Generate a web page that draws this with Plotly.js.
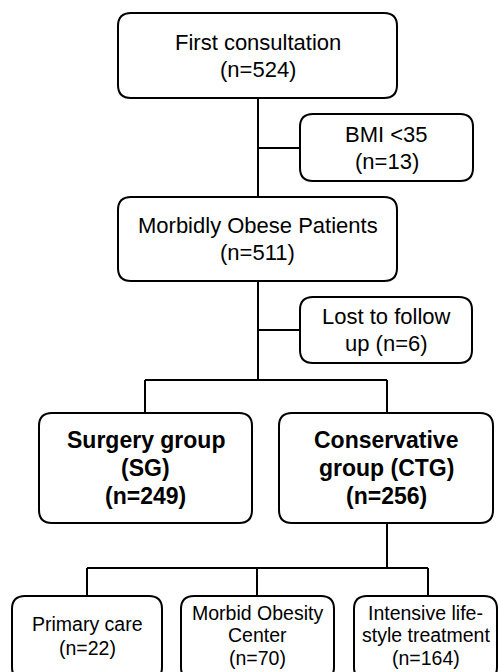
<!DOCTYPE html>
<html>
<head>
<meta charset="utf-8">
<script src="https://cdn.plot.ly/plotly-3.0.1.min.js"></script>
<style>html,body{margin:0;padding:0;background:#fff;}#chart{width:500px;height:672px;}</style>
</head>
<body>
<div id="chart"></div>
<script>
// ---- data ----
var nodeIds = ["first", "bmi", "obese", "lost", "sg", "ctg", "primary", "moc", "intensive"];
var nodeLabels = [
  ["First consultation"],
  ["BMI &lt;35"],
  ["Morbidly Obese Patients"],
  ["Lost to follow", "up "],
  ["Surgery group", "(SG)"],
  ["Conservative", "group (CTG)"],
  ["Primary care"],
  ["Morbid Obesity", "Center"],
  ["Intensive life-", "style treatment"]
];
var nodeCounts = [524, 13, 511, 6, 249, 256, 22, 70, 164];
var nodeBold = [false, false, false, false, true, true, false, false, false];

// ---- layout (pixel geometry) ----
var boxes = [
  [118, 397, 13, 98],
  [300, 473, 114, 181],
  [118, 397, 197, 281],
  [300, 472, 297, 363],
  [39, 252, 413, 523],
  [279, 493, 413, 523],
  [12, 162, 596, 680],
  [181, 334, 596, 680],
  [354, 497, 596, 680]
];
var textCenters = [55.5, 147.5, 239, 330, 468, 468, 636, 635, 635];
var fontSizes = [22, 22, 22, 22, 23, 23, 19.5, 19.5, 19.5];
var lineSteps = [27, 27, 27, 27, 28, 28, 24, 22.5, 22.5];
var connectors = [
  [[258, 98], [258, 197]],
  [[258, 281], [258, 380]],
  [[258, 148], [300, 148]],
  [[258, 330], [300, 330]],
  [[145, 380], [387, 380]],
  [[145, 380], [145, 413]],
  [[387, 380], [387, 413]],
  [[387, 523], [387, 568]],
  [[87, 568], [428, 568]],
  [[87, 568], [87, 596]],
  [[257, 568], [257, 596]],
  [[428, 568], [428, 596]]
];

function roundRect(b, r) {
  var x0 = b[0], x1 = b[1], y0 = b[2], y1 = b[3];
  return "M" + (x0 + r) + "," + y0 +
    " L" + (x1 - r) + "," + y0 +
    " Q" + x1 + "," + y0 + " " + x1 + "," + (y0 + r) +
    " L" + x1 + "," + (y1 - r) +
    " Q" + x1 + "," + y1 + " " + (x1 - r) + "," + y1 +
    " L" + (x0 + r) + "," + y1 +
    " Q" + x0 + "," + y1 + " " + x0 + "," + (y1 - r) +
    " L" + x0 + "," + (y0 + r) +
    " Q" + x0 + "," + y0 + " " + (x0 + r) + "," + y0 + " Z";
}

var shapes = [];
connectors.forEach(function (c) {
  shapes.push({type: "line", xref: "x", yref: "y", x0: c[0][0], y0: c[0][1], x1: c[1][0], y1: c[1][1],
    line: {color: "#000", width: 2}});
});
boxes.forEach(function (b) {
  shapes.push({type: "path", xref: "x", yref: "y", path: roundRect(b, 13),
    fillcolor: "#fff", line: {color: "#000", width: 2}});
});

var annotations = [];
nodeIds.forEach(function (id, i) {
  var b = boxes[i];
  var lines = nodeLabels[i].slice();
  var countText = "(n=" + nodeCounts[i] + ")";
  if (id === "lost") lines[lines.length - 1] += countText; else lines.push(countText);
  var n = lines.length;
  lines.forEach(function (ln, k) {
    var t = nodeBold[i] ? "<b>" + ln + "</b>" : ln;
    annotations.push({
      x: (b[0] + b[1]) / 2,
      y: textCenters[i] + (k - (n - 1) / 2) * lineSteps[i],
      xref: "x", yref: "y", text: t, showarrow: false,
      xanchor: "center", yanchor: "middle", align: "center",
      font: {family: "Liberation Sans, Arial, sans-serif", size: fontSizes[i], color: "#000"}
    });
  });
});

var layout = {
  width: 500, height: 672,
  margin: {l: 0, r: 0, t: 0, b: 0},
  paper_bgcolor: "#fff", plot_bgcolor: "#fff",
  xaxis: {range: [0, 500], visible: false, fixedrange: true},
  yaxis: {range: [672, 0], visible: false, fixedrange: true},
  shapes: shapes,
  annotations: annotations,
  showlegend: false
};

Plotly.newPlot("chart", [{x: [], y: [], type: "scatter", mode: "markers", hoverinfo: "skip"}], layout,
  {staticPlot: true, displayModeBar: false});
</script>
</body>
</html>
